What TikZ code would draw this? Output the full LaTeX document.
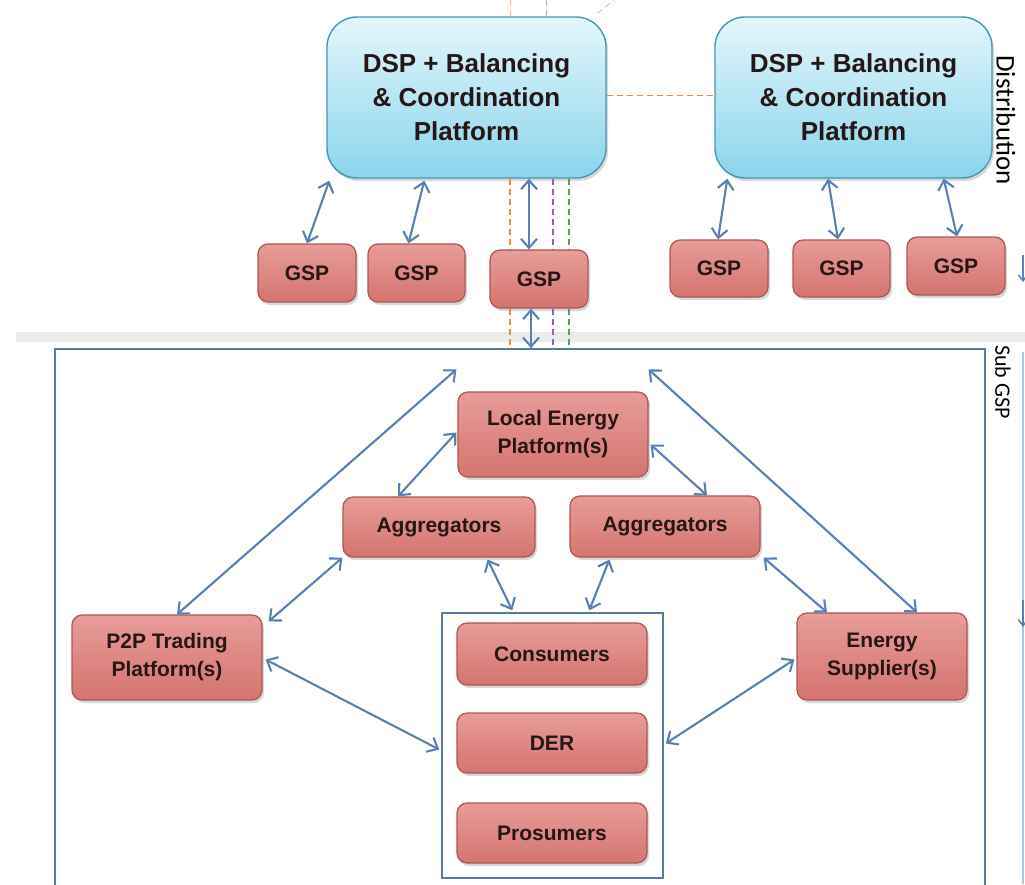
\documentclass[tikz,border=0pt]{standalone}
\usepackage{fontspec}
\setmainfont{Liberation Sans}
\newfontfamily\calib{Carlito}
\usetikzlibrary{arrows.meta,shadows,calc}
\definecolor{arrowc}{RGB}{88,128,178}
\definecolor{redT}{RGB}{232,156,152}
\definecolor{redB}{RGB}{212,116,112}
\definecolor{redline}{RGB}{168,88,84}
\definecolor{blueT}{RGB}{228,247,252}
\definecolor{blueB}{RGB}{138,212,236}
\definecolor{blueline}{RGB}{72,150,178}
\definecolor{txt}{RGB}{38,22,22}
\definecolor{framec}{RGB}{88,122,162}
\definecolor{dashO}{RGB}{232,140,70}
\definecolor{dashP}{RGB}{150,95,175}
\definecolor{dashG}{RGB}{85,160,85}
\tikzset{
  redbox/.style={draw=redline, line width=1.2pt, rounded corners=10pt,
    top color=redT, bottom color=redB, text=txt, align=center, inner sep=0pt,
    font=\bfseries\fontsize{21}{28}\selectfont,
    drop shadow={opacity=0.3, shadow xshift=2pt, shadow yshift=-3pt}},
  dspbox/.style={draw=blueline, line width=1.4pt, rounded corners=30pt,
    top color=blueT, bottom color=blueB, text=txt, align=center, inner sep=0pt,
    minimum width=279pt, minimum height=161pt,
    font=\bfseries\fontsize{26}{34}\selectfont,
    drop shadow={opacity=0.3, shadow xshift=2pt, shadow yshift=-3pt}},
  frame/.style={draw=framec, line width=1.8pt, fill=white},
  link/.style={draw=arrowc, line width=2.1pt, {Straight Barb[length=9pt,width=16pt]}-{Straight Barb[length=9pt,width=16pt]}},
  dashline/.style={line width=1.4pt, dash pattern=on 6pt off 4pt},
  sidelab/.style={rotate=-90, text=black, inner sep=0pt}
}
\begin{document}
\begin{tikzpicture}[x=1pt,y=-1pt]
\useasboundingbox (0,0) rectangle (1025,884);
\clip (0,0) rectangle (1025,884);
\fill[white] (0,0) rectangle (1025,884);

% separator band
\fill[black!8] (16,332) rectangle (1025,342);

% sub GSP frame
\node[frame, minimum width=930pt, minimum height=560pt, inner sep=0pt] (sub) at (520,629) {};

% right edge partial lines
\draw[draw={rgb,255:red,175;green,195;blue,225}, line width=1.5pt] (1023,352) -- (1023,884);
\draw[arrowc, line width=1.5pt, -{Straight Barb[length=6pt,width=9pt]}] (1023,255) -- (1023,282);
\draw[arrowc, line width=1.5pt, -{Straight Barb[length=6pt,width=9pt]}] (1023,600) -- (1023,627);

% DSP boxes
\node[dspbox] (dspL) at (466.5,97.5) {DSP + Balancing\\\& Coordination\\Platform};
\node[dspbox, minimum width=277pt] (dspR) at (853.5,97.5) {DSP + Balancing\\\& Coordination\\Platform};

% dashed lines
\coordinate (dO) at ($(dspL.south)+(43.5,0)$);
\coordinate (dP) at ($(dspL.south)+(86.5,0)$);
\coordinate (dG) at ($(dspL.south)+(102.5,0)$);
\draw[dashline, dashO] (dO) -- (dO |- sub.north);
\draw[dashline, dashP] (dP) -- (dP |- sub.north);
\draw[dashline, dashG] (dG) -- (dG |- sub.north);
\coordinate (tO) at ($(dspL.north)+(43.5,-17)$);
\coordinate (tP) at ($(dspL.north)+(80,-17)$);
\coordinate (tD1) at ($(dspL.north east)+(-9,-3)$);
\coordinate (tD2) at ($(dspL.north east)+(8,-17)$);
\draw[dashline, dashO, line width=1pt, opacity=0.6] (dspL.north -| tO) -- (tO);
\draw[dashline, dashP, line width=1pt, opacity=0.6] (dspL.north -| tP) -- (tP);
\draw[dashline, black!35, line width=1pt, opacity=0.6] (tD1) -- (tD2);
\draw[dashline, dashO, line width=1.8pt] ($(dspL.east)+(0,-2)$) -- ($(dspR.west)+(0,-2)$);

% GSP boxes
\node[redbox, minimum width=98pt, minimum height=58pt] (gsp1) at (307,273) {GSP};
\node[redbox, minimum width=97pt, minimum height=58pt] (gsp2) at (416.5,273) {GSP};
\node[redbox, minimum width=98pt, minimum height=58pt] (gsp3) at (539,279) {GSP};
\node[redbox, minimum width=98pt, minimum height=57pt] (gsp4) at (719,268.5) {GSP};
\node[redbox, minimum width=97pt, minimum height=57pt] (gsp5) at (841.5,268.5) {GSP};
\node[redbox, minimum width=98pt, minimum height=58pt] (gsp6) at (956,266) {GSP};

% side labels
\node[sidelab, font=\calib\fontsize{27}{30}\selectfont] (distlab) at (1006,120) {Distribution};
\node[sidelab, font=\calib\fontsize{22}{26}\selectfont] (sublab) at (1003,382) {Sub GSP};

% lower boxes
\node[redbox, minimum width=190pt, minimum height=85pt] (lep) at (553,434.5) {Local Energy\\Platform(s)};
\node[redbox, minimum width=192pt, minimum height=60pt] (aggL) at (439,527) {Aggregators};
\node[redbox, minimum width=190pt, minimum height=61pt] (aggR) at (665,526.5) {Aggregators};
\node[redbox, minimum width=190pt, minimum height=85pt] (p2p) at (167,657.5) {P2P Trading\\Platform(s)};
\node[redbox, minimum width=170pt, minimum height=87pt] (esup) at (882,656.5) {Energy\\Supplier(s)};
\node[frame, line width=1.5pt, minimum width=221pt, minimum height=265pt, inner sep=0pt] (inner) at (552.5,745.5) {};
\node[redbox, minimum width=190pt, minimum height=62pt] (cons) at (552,654) {Consumers};
\node[redbox, minimum width=190pt, minimum height=60pt] (der) at (552,743) {DER};
\node[redbox, minimum width=190pt, minimum height=60pt] (pros) at (552,833) {Prosumers};

% connectors: distribution level
\draw[link] ($(dspL.south west)+(3,2)$) -- (gsp1.north);
\draw[link] ($(dspL.south west)+(98,2)$) -- ($(gsp2.north)+(-8,0)$);
\draw[link] ($(dspL.south)+(62.5,0)$) -- ($(gsp3.north)+(-10,0)$);
\coordinate (g3b) at ($(gsp3.south)+(-8,0)$);
\draw[link] (g3b) -- (g3b |- sub.north);
\draw[link] ($(dspR.south west)+(13,0)$) -- ($(gsp4.north)+(-1,0)$);
\draw[link] ($(dspR.south)+(-25.5,0)$) -- ($(gsp5.north)+(-3.5,0)$);
\draw[link] ($(dspR.south east)+(-49,0)$) -- ($(gsp6.north)+(1,0)$);

% connectors: sub GSP level
\coordinate (tl) at ($(lep.north west)+(-1,-22)$);
\coordinate (tr) at ($(lep.north east)+(0,-22)$);
\draw[link] (tl) -- ($(p2p.north)+(10,0)$);
\draw[link] (tr) -- ($(esup.north)+(35,0)$);
\draw[link] ($(lep.west)+(-1,-2)$) -- ($(aggL.north)+(-41,0)$);
\draw[link] ($(lep.east)+(2,10)$) -- ($(aggR.north)+(42,0)$);
\draw[link] ($(aggR.south east)+(3,0)$) -- ($(esup.north)+(-55,0)$);
\draw[link] (aggL.south west) -- ($(p2p.north east)+(6,7)$);
\draw[link] ($(p2p.east)+(3,2)$) -- ($(inner.west)+(-2,4)$);
\draw[link] ($(esup.west)+(-2,3)$) -- ($(inner.east)+(2,-2)$);
\draw[link] ($(aggL.south east)+(-48,2)$) -- ($(inner.north west)+(71,-2)$);
\draw[link] ($(aggR.south west)+(40,2)$) -- ($(inner.north west)+(148,-2)$);
\end{tikzpicture}
\end{document}
